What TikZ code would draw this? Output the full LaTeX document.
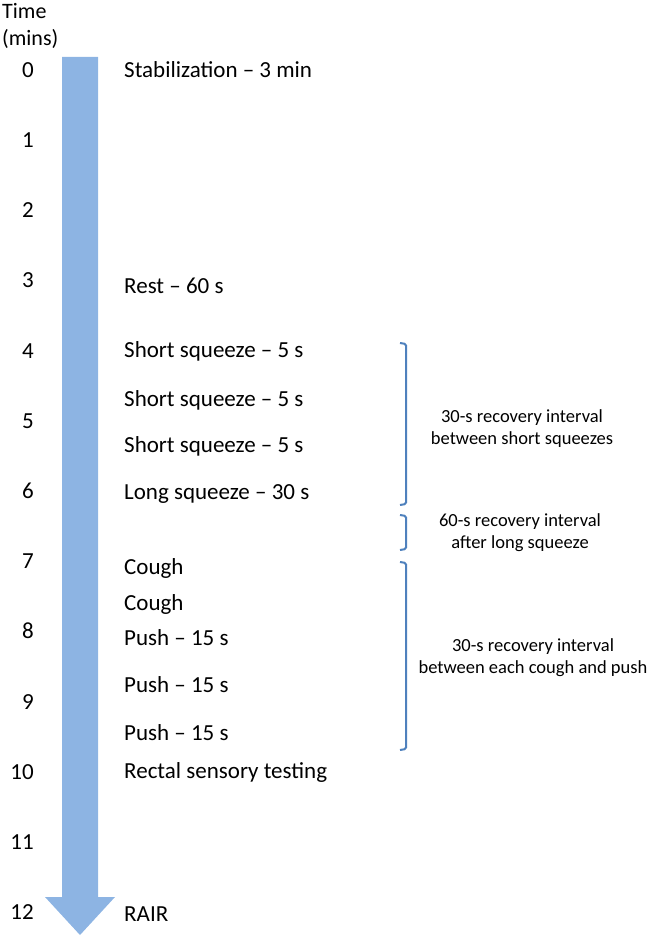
\documentclass[tikz,border=0pt]{standalone}
\usepackage{fontspec}
\setmainfont{Carlito}
\usetikzlibrary{positioning}
\definecolor{timeblue}{RGB}{141,180,227}
\definecolor{bracketblue}{RGB}{79,129,189}

\begin{document}
\begin{tikzpicture}[x=1pt,y=-1pt,
	tick/.style={anchor=east,inner sep=0pt,text height=0.64em,text depth=0pt,yshift=-4pt,font=\fontsize{23}{28}\selectfont},
	phase/.style={anchor=west,inner sep=0pt,text height=0.64em,text depth=0pt,yshift=-4pt,font=\fontsize{23}{28}\selectfont},
	note/.style={align=center,inner sep=0pt,font=\fontsize{18.5}{22}\selectfont},
	bracket/.style={bracketblue,line width=2pt,rounded corners=1.5pt}]
	\useasboundingbox (0,0) rectangle (649,936);
	\fill[timeblue] (62,57) -- (98,57) -- (98,897) -- (115,897) -- (80,935) -- (45,897) -- (62,897) -- cycle;
	\node[anchor=north west,align=left,inner sep=0pt,font=\fontsize{22}{27}\selectfont] (head) at (2,3) {Time\\(mins)};
	\foreach \m in {0,...,12}
		\node[tick] (t\m) at (34,{70+70.2*\m}) {\m};
	\node[phase] (stab) at (124,70) {Stabilization -- 3 min};
	\node[phase] (rest) at (124,286) {Rest -- 60 s};
	\node[phase] (sq1) at (124,350.5) {Short squeeze -- 5 s};
	\node[phase] (sq2) at (124,399.5) {Short squeeze -- 5 s};
	\node[phase] (sq3) at (124,445.5) {Short squeeze -- 5 s};
	\node[phase] (long) at (124,492.5) {Long squeeze -- 30 s};
	\node[phase] (cough1) at (124,567) {Cough};
	\node[phase] (cough2) at (124,603) {Cough};
	\node[phase] (push1) at (124,638) {Push -- 15 s};
	\node[phase] (push2) at (124,685) {Push -- 15 s};
	\node[phase] (push3) at (124,733) {Push -- 15 s};
	\node[phase] (rectal) at (124,771) {Rectal sensory testing};
	\node[phase] (rair) at (124,914) {RAIR};
	\draw[bracket] (400,343) -- (406,344) -- (406,504) -- (400,505);
	\draw[bracket] (400,515) -- (406,516) -- (406,549) -- (400,550);
	\draw[bracket] (400,562) -- (406,563) -- (406,749) -- (400,750);
	\node[note] (shortrec) at (522,429) {30-s recovery interval\\between short squeezes};
	\node[note] (longrec) at (520,533) {60-s recovery interval\\after long squeeze};
	\node[note] (pushrec) at (533,658) {30-s recovery interval\\between each cough and push};
\end{tikzpicture}
\end{document}
